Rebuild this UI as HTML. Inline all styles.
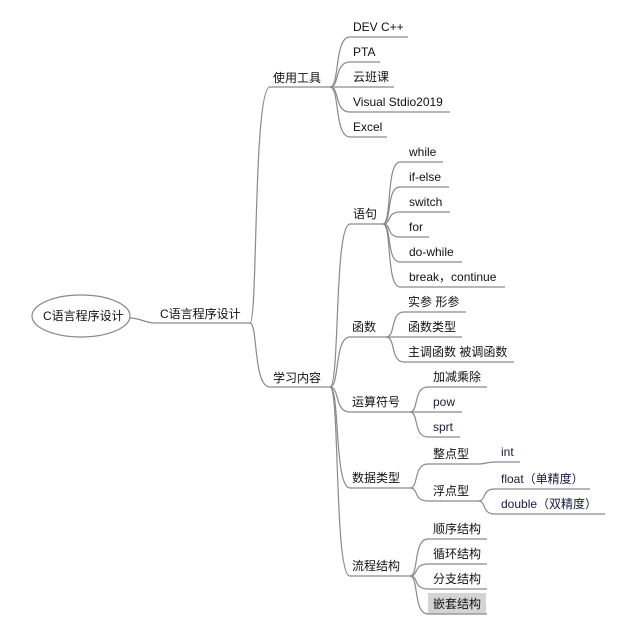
<!DOCTYPE html>
<html><head><meta charset="utf-8"><style>
body{margin:0;background:#fff;width:628px;height:623px;overflow:hidden}
svg text{font-family:"Liberation Sans","Noto Sans CJK SC",sans-serif;font-size:12px;fill:#111}
path{fill:none;stroke:#8a8a8a;stroke-width:1.2}
</style></head><body>
<svg width="628" height="623" viewBox="0 0 628 623">
<ellipse cx="81" cy="316" rx="49" ry="21" fill="#fff" stroke="#8a8a8a" stroke-width="1.2"/>
<text x="43" y="320">C语言程序设计</text>
<path d="M130,318 C140,318 145,323 155,323 L250,323"/>
<text x="160" y="318">C语言程序设计</text>
<!-- level2 -->
<path d="M250,323 C258,323 253,87 270,87 L330,87"/>
<path d="M250,323 C258,323 253,387 270,387 L330,387"/>
<text x="273" y="82">使用工具</text>
<text x="273" y="382">学习内容</text>
<!-- tools -->
<path d="M330,87 C340,87 334,37 350,37 L408,37"/>
<path d="M330,87 C340,87 334,62 350,62 L380,62"/>
<path d="M330,87 L394,87"/>
<path d="M330,87 C340,87 334,112 350,112 L450,112"/>
<path d="M330,87 C340,87 334,137 350,137 L387,137"/>
<text x="353" y="31">DEV C++</text>
<text x="353" y="56">PTA</text>
<text x="353" y="81">云班课</text>
<text x="353" y="106">Visual Stdio2019</text>
<text x="353" y="131">Excel</text>
<!-- learning -->
<path d="M330,387 C340,387 334,224 350,224 L383,224"/>
<path d="M330,387 C340,387 334,337 350,337 L386,337"/>
<path d="M330,387 C340,387 334,412 350,412 L410,412"/>
<path d="M330,387 C340,387 334,488 350,488 L410,488"/>
<path d="M330,387 C340,387 334,576 350,576 L410,576"/>
<text x="353" y="218">语句</text>
<text x="352" y="331">函数</text>
<text x="352" y="406">运算符号</text>
<text x="352" y="482">数据类型</text>
<text x="352" y="570">流程结构</text>
<!-- 语句 -->
<path d="M383,224 C392,224 386,162 400,162 L443,162"/>
<path d="M383,224 C392,224 386,187 400,187 L449,187"/>
<path d="M383,224 C392,224 386,212 400,212 L450,212"/>
<path d="M383,224 C392,224 386,237 400,237 L429,237"/>
<path d="M383,224 C392,224 386,262 400,262 L462,262"/>
<path d="M383,224 C392,224 386,287 400,287 L505,287"/>
<text x="409" y="156">while</text>
<text x="409" y="181">if-else</text>
<text x="409" y="206">switch</text>
<text x="409" y="231">for</text>
<text x="409" y="256">do-while</text>
<text x="409" y="281">break，continue</text>
<!-- 函数 -->
<path d="M386,337 C396,337 390,312 404,312 L466,312"/>
<path d="M386,337 L462,337"/>
<path d="M386,337 C396,337 390,362 404,362 L514,362"/>
<text x="408" y="306">实参 形参</text>
<text x="408" y="331">函数类型</text>
<text x="408" y="356">主调函数 被调函数</text>
<!-- 运算 -->
<path d="M410,412 C419,412 413,387 428,387 L487,387"/>
<path d="M410,412 L462,412"/>
<path d="M410,412 C419,412 413,437 428,437 L460,437"/>
<text x="433" y="381">加减乘除</text>
<text x="433" y="406" style="fill:#1a1a3a">pow</text>
<text x="433" y="431" style="fill:#1a1a3a">sprt</text>
<!-- 数据类型 -->
<path d="M410,488 C419,488 413,464 428,464 L478,464 C485,464 488,462 495,462 L520,462"/>
<path d="M410,488 C419,488 413,501 428,501 L478,501"/>
<path d="M478,501 C487,501 481,489 495,489 L590,489"/>
<path d="M478,501 C487,501 481,514 495,514 L605,514"/>
<text x="433" y="458">整点型</text>
<text x="433" y="495">浮点型</text>
<text x="501" y="456" style="fill:#1a1a3a">int</text>
<text x="501" y="483" style="fill:#1a1a3a">float（单精度）</text>
<text x="501" y="508" style="fill:#1a1a3a">double（双精度）</text>
<!-- 流程 -->
<rect x="428" y="593" width="58" height="21" fill="#d4d4d4"/>
<path d="M410,576 C419,576 413,539 428,539 L487,539"/>
<path d="M410,576 C419,576 413,564 428,564 L487,564"/>
<path d="M410,576 C419,576 413,589 428,589 L487,589"/>
<path d="M410,576 C419,576 413,614 428,614 L487,614"/>
<text x="433" y="533">顺序结构</text>
<text x="433" y="558">循环结构</text>
<text x="433" y="583">分支结构</text>
<text x="433" y="608">嵌套结构</text>
</svg>
</body></html>
